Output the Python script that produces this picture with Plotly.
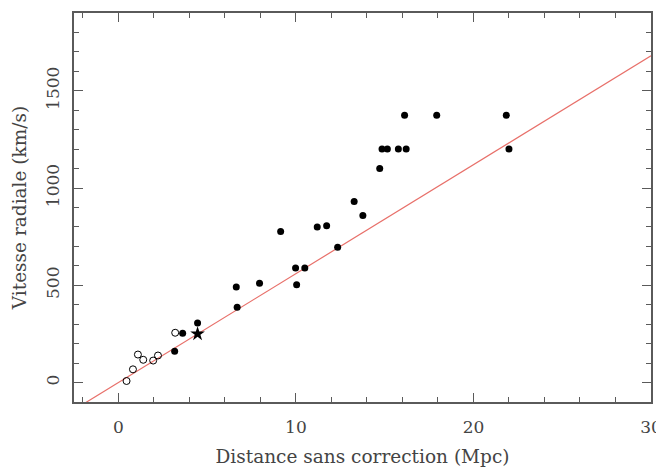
import plotly.graph_objects as go

# Data
open_x = [0.46, 0.82, 1.1, 1.4, 1.96, 2.23, 3.2]
open_y = [8, 68, 144, 117, 113, 139, 256]

filled_x = [3.17, 3.62, 4.46, 6.64, 6.69, 7.95, 9.14, 9.98, 10.04, 10.5, 11.2, 11.73,
            12.35, 13.28, 13.77, 14.72, 14.85, 15.15, 15.77, 16.21, 16.12, 17.93, 21.85, 22.0]
filled_y = [161, 254, 306, 491, 387, 510, 776, 589, 503, 589, 800, 806,
            696, 931, 859, 1101, 1201, 1201, 1201, 1201, 1374, 1374, 1374, 1201]

star_x = [4.46]
star_y = [250]

fit_slope = 56.0      # km/s per Mpc
fit_intercept = 0.0
fit_x = [-2.5, 30]
fit_y = [fit_slope * v + fit_intercept for v in fit_x]

x_ticks = [0, 10, 20, 30]
y_ticks = [0, 500, 1000, 1500]

FONT = "DejaVu Serif"
TXT = "#444444"
AX = "#5a5a5a"

fig = go.Figure()
fig.add_trace(go.Scatter(x=fit_x, y=fit_y, mode="lines",
                         line=dict(color="#e8706a", width=1.2), hoverinfo="skip"))
fig.add_trace(go.Scatter(x=open_x, y=open_y, mode="markers",
                         marker=dict(symbol="circle-open", size=7, color="black",
                                     line=dict(width=1, color="black"))))
fig.add_trace(go.Scatter(x=filled_x, y=filled_y, mode="markers",
                         marker=dict(symbol="circle", size=7, color="black")))
fig.add_trace(go.Scatter(x=star_x, y=star_y, mode="markers",
                         marker=dict(symbol="star", size=11, color="black")))

axis_common = dict(
    showgrid=False, zeroline=False, showline=True, linecolor=AX, linewidth=1.5,
    mirror="allticks", ticks="inside", ticklen=9, tickwidth=1.2, tickcolor=AX,
    tickfont=dict(family=FONT, size=17, color=TXT), automargin=False,
    ticklabeloverflow="allow",
)

# The page body has an 8px default margin, so margins are offset accordingly.
fig.update_layout(
    width=664, height=459,
    margin=dict(l=66, r=21, t=5, b=65),
    paper_bgcolor="white", plot_bgcolor="white",
    showlegend=False,
    font=dict(family=FONT, color=TXT),
    xaxis=dict(**axis_common, range=[-2.5, 30], tickvals=x_ticks,
               ticktext=[str(v) for v in x_ticks],
               minor=dict(dtick=2, tick0=0, ticks="inside", ticklen=5, tickcolor=AX, tickwidth=1.2),
               ticklabelstandoff=9,
               title=dict(text="Distance sans correction (Mpc)", standoff=15,
                          font=dict(family=FONT, size=18.5, color=TXT))),
    yaxis=dict(**axis_common, range=[-100, 1900], tickvals=y_ticks,
               ticktext=[str(v) for v in y_ticks], tickangle=-90,
               minor=dict(dtick=100, tick0=0, ticks="inside", ticklen=5, tickcolor=AX, tickwidth=1.2),
               ticklabelstandoff=6,
               title=dict(text="Vitesse radiale (km/s)", standoff=12,
                          font=dict(family=FONT, size=18.5, color=TXT))),
)

fig.write_html("out.html")
